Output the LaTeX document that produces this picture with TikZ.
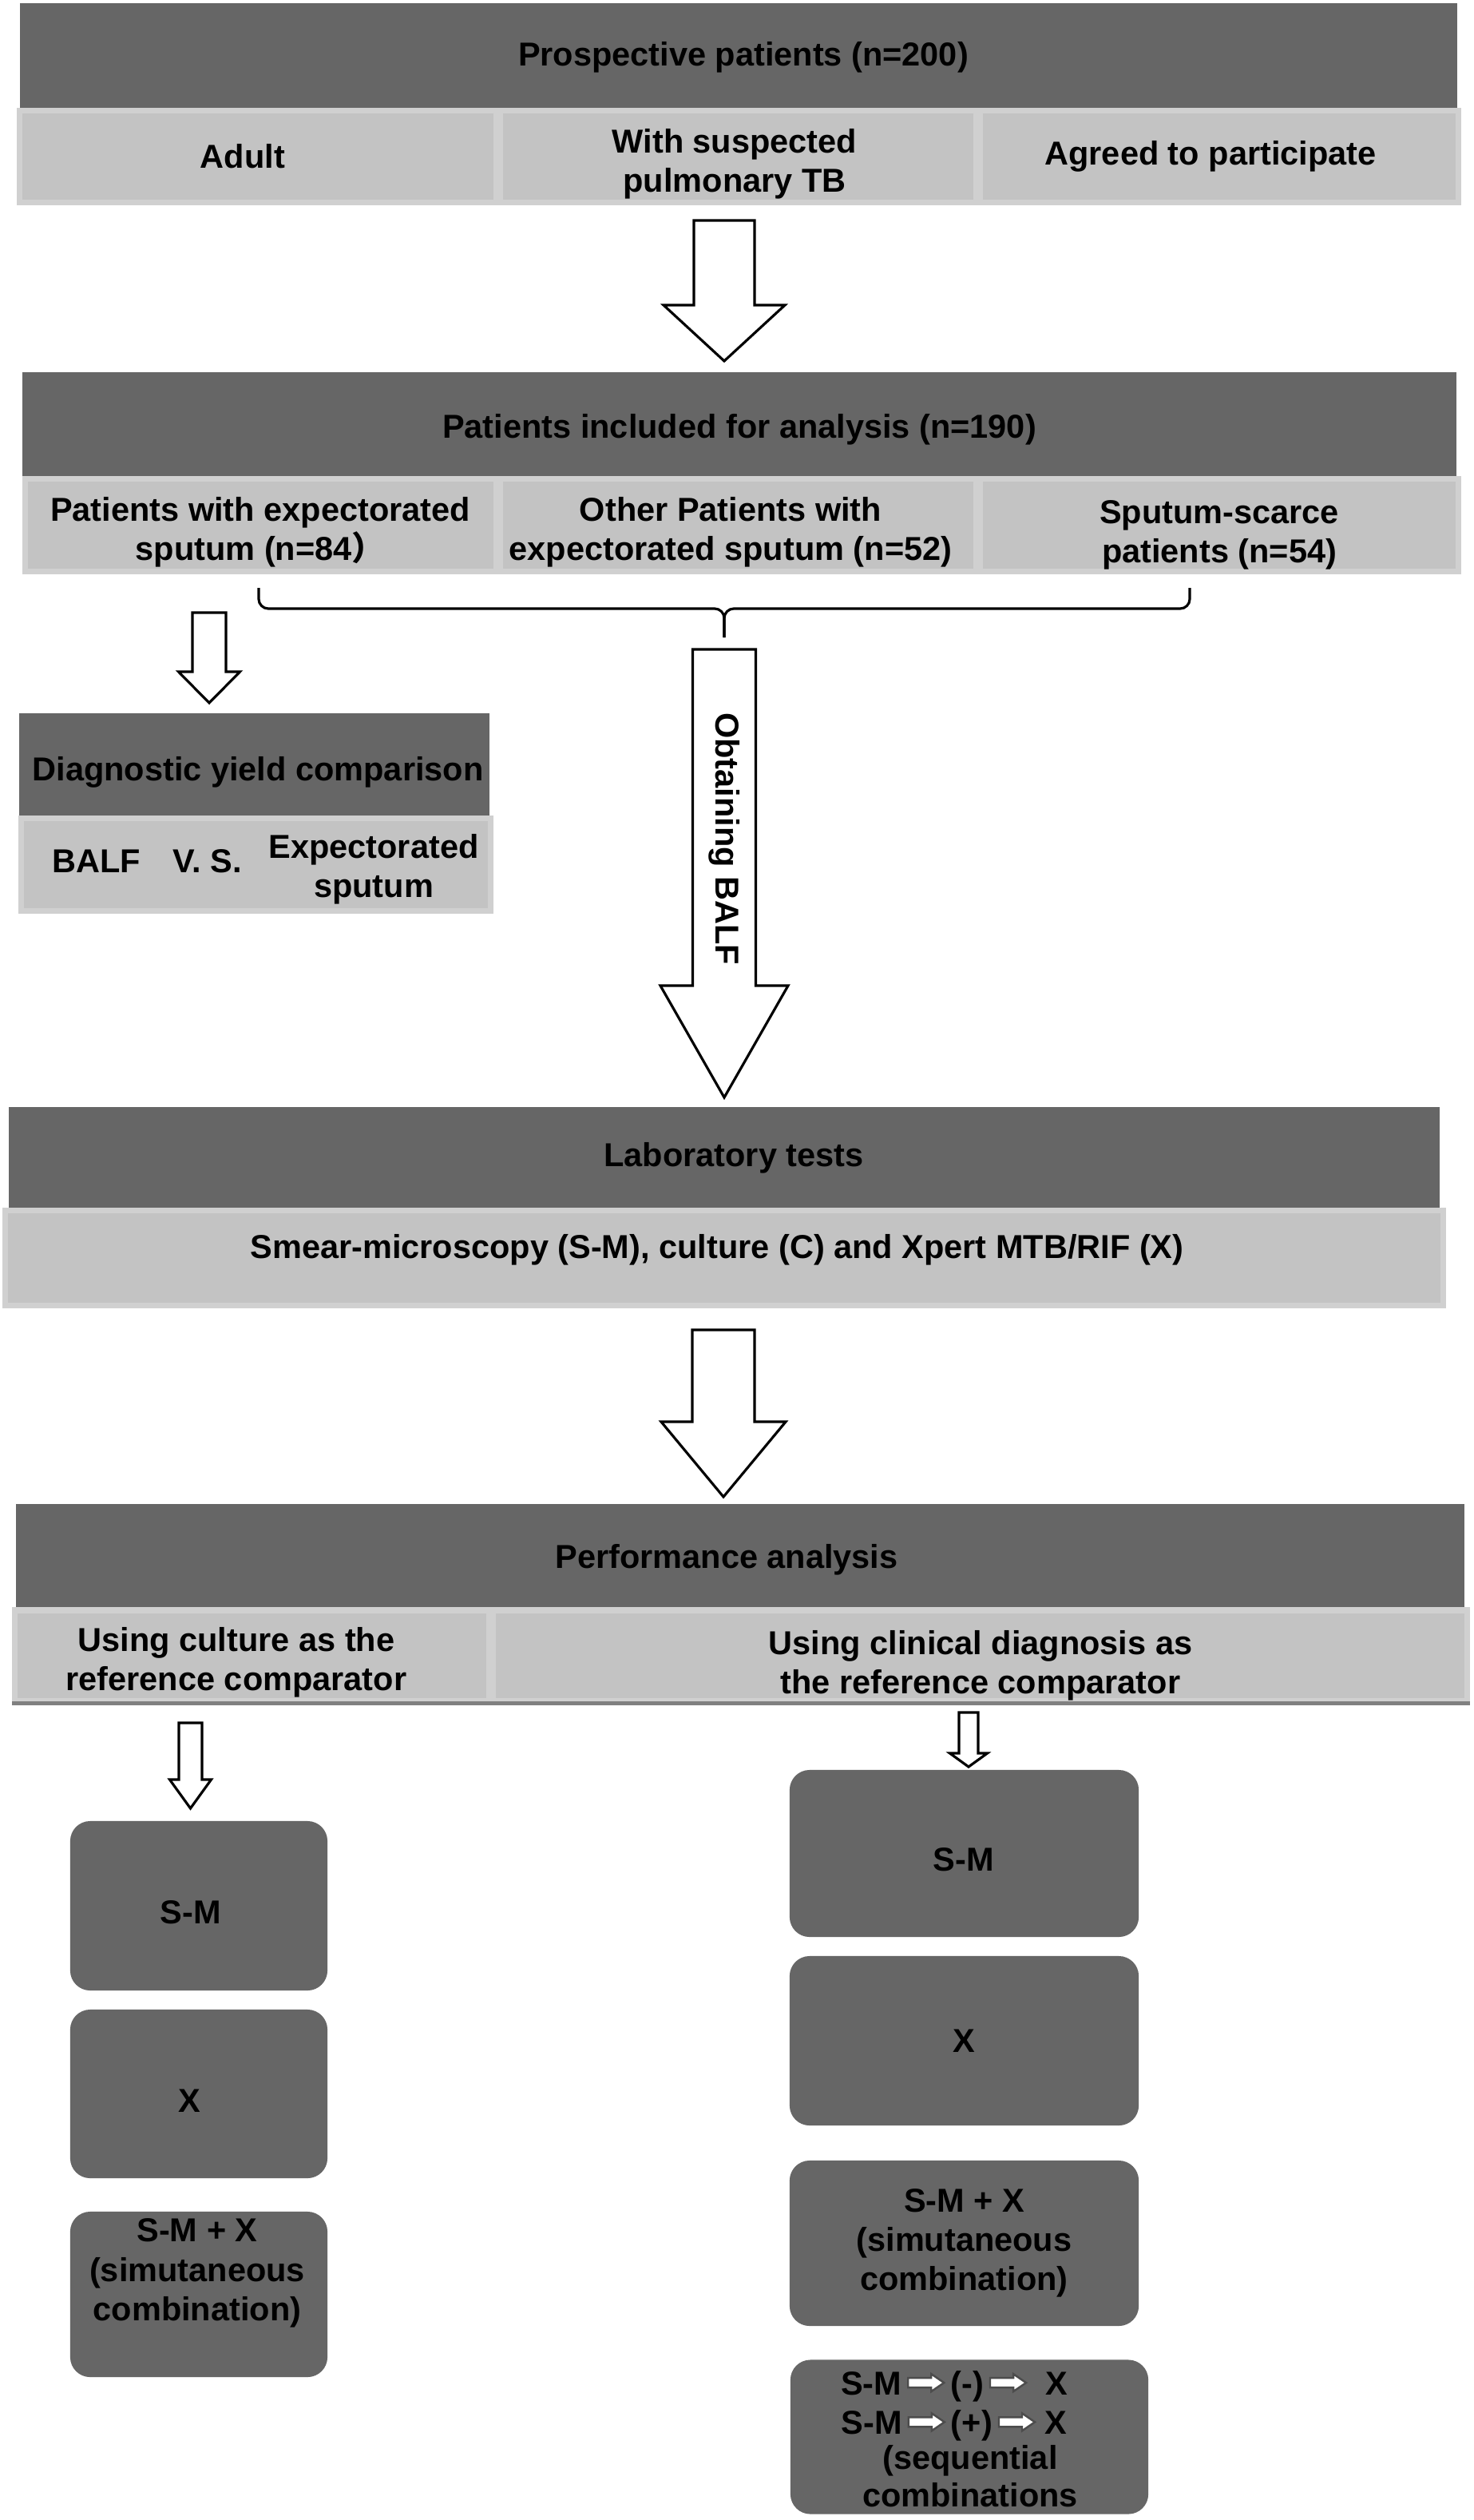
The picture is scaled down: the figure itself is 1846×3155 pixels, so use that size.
\documentclass[tikz,border=0pt]{standalone}
\usepackage{fontspec}
\setmainfont{Liberation Sans}
\newfontfamily\cjkfont{Noto Sans CJK SC}
\usetikzlibrary{calc}
\definecolor{bardark}{HTML}{666666}
\definecolor{celllight}{HTML}{C3C3C3}
\definecolor{cellrim}{HTML}{D0D0D0}
\tikzset{
  every node/.style={font=\bfseries\fontsize{11.8}{14}\selectfont, align=center, inner sep=0pt},
  darkbar/.style={fill=bardark},
  lightcell/.style={fill=celllight, draw=cellrim, line width=2pt},
  testbox/.style={fill=bardark, rounded corners=0.25cm},
  hollow/.style={draw=black, fill=white, line width=0.9pt, line join=miter}
}
% block arrow: from, tip, shaft half width, head half width, head length
\newcommand\hollowarrow[5]{\draw[hollow] let \p1=(#1), \p2=(#2) in
  (\x1-#3,\y1) -- (\x1+#3,\y1) -- (\x1+#3,\y2+#5) -- (\x1+#4,\y2+#5) -- (\x2,\y2)
  -- (\x1-#4,\y2+#5) -- (\x1-#3,\y2+#5) -- cycle;}
% small white arrow inside text
\newcommand\wharrow{\tikz[x=1cm,y=1cm,baseline=-0.15cm]\draw[fill=white, draw=black!70, line width=0.7pt]
  (0,-0.06) -- (0.29,-0.06) -- (0.29,-0.11) -- (0.45,0) -- (0.29,0.11) -- (0.29,0.06) -- (0,0.06) -- cycle;}

\begin{document}
\begin{tikzpicture}[x=0.01cm, y=-0.01cm]
		%%%%% START %%%%%
		\fill[white] (0,0) rectangle (1846,3155);
		\useasboundingbox (0,0) rectangle (1846,3155);
		
		\node[darkbar, minimum width=17.98cm, minimum height=1.32cm] (pros) at (925,70) {};
		\node (prostxt) at (931,72) {Prospective patients (n=200)};
		\node[lightcell, minimum width=5.96cm, minimum height=1.14cm] (adult) at (323,196) {};
		\node[lightcell, minimum width=5.95cm, minimum height=1.14cm] (susp) at (924.5,196) {};
		\node[lightcell, minimum width=5.98cm, minimum height=1.14cm] (agree) at (1527,196) {};
		\node (adulttxt) at (304,196) {Adult};
		\node (susptxt) at (920,205) {With suspected\\pulmonary TB};
		\node (agreetxt) at (1516,196) {Agreed to participate};
		
		\coordinate (a1s) at (907,276);
		\coordinate (a1e) at (907,452);
		\hollowarrow{a1s}{a1e}{0.38cm}{0.76cm}{0.70cm}
		
		\node[darkbar, minimum width=17.94cm, minimum height=1.31cm] (incl) at (926,531.5) {};
		\node (incltxt) at (926,538) {Patients included for analysis (n=190)};
		\node[lightcell, minimum width=5.89cm, minimum height=1.15cm] (expec) at (326.5,657.5) {};
		\node[lightcell, minimum width=5.95cm, minimum height=1.15cm] (other) at (924.5,657.5) {};
		\node[lightcell, minimum width=5.98cm, minimum height=1.15cm] (scarce) at (1527,657.5) {};
		\node (expectxt) at (326,666) {Patients with expectorated\\sputum (n=84{\cjkfont ）}};
		\node (othertxt) at (915,666) {Other Patients with\\expectorated sputum (n=52)};
		\node (scarcetxt) at (1527,670) {Sputum-scarce\\patients (n=54)};
		
		% brace under the three groups
		\coordinate (brl) at (324,736);
		\coordinate (brr) at (1490,736);
		\coordinate (brt) at (907,798);
		\draw[line width=0.9pt, rounded corners=0.12cm] (brl) -- (brl |- 0,762) -- (brt |- 0,762) -- (brt);
		\draw[line width=0.9pt, rounded corners=0.12cm] (brr) -- (brr |- 0,762) -- (brt |- 0,762) -- (brt);
		
		\coordinate (a2s) at (262,767);
		\coordinate (a2e) at (262,880);
		\hollowarrow{a2s}{a2e}{0.21cm}{0.385cm}{0.39cm}
		
		\node[darkbar, minimum width=5.89cm, minimum height=1.29cm] (yield) at (318.5,957.5) {};
		\node (yieldtxt) at (323,967) {Diagnostic yield comparison};
		\node[lightcell, minimum width=5.87cm, minimum height=1.15cm] (versus) at (320.5,1082.5) {};
		\node (balf) at (121,1078) {BALF};
		\node (vs) at (260,1078) {V. S.};
		\node (sput) at (468,1088) {Expectorated\\sputum};
		
		\coordinate (a3s) at (907,813);
		\coordinate (a3e) at (907,1374);
		\hollowarrow{a3s}{a3e}{0.395cm}{0.80cm}{1.40cm}
		\node[rotate=-90] (obtain) at (907,1050) {Obtaining BALF};
		
		\node[darkbar, minimum width=17.90cm, minimum height=1.27cm] (lab) at (907,1449.5) {};
		\node (labtxt) at (919,1449.5) {Laboratory tests};
		\node[lightcell, minimum width=18.00cm, minimum height=1.18cm] (tests) at (907,1575) {};
		\node (testtxt) at (898,1565) {Smear-microscopy (S-M), culture (C) and Xpert MTB/RIF (X)};
		
		\coordinate (a4s) at (906,1665);
		\coordinate (a4e) at (906,1874);
		\hollowarrow{a4s}{a4e}{0.39cm}{0.78cm}{0.94cm}
		
		\node[darkbar, minimum width=18.12cm, minimum height=1.30cm] (perf) at (927,1948) {};
		\node (perftxt) at (910,1953) {Performance analysis};
		\node[lightcell, minimum width=5.93cm, minimum height=1.13cm] (cult) at (315.5,2072.5) {};
		\node[lightcell, minimum width=12.19cm, minimum height=1.13cm] (clin) at (1227.5,2072.5) {};
		\node (culttxt) at (296,2081) {Using culture as the\\reference comparator};
		\node (clintxt) at (1228,2085) {Using clinical diagnosis as\\the reference comparator};
		\draw[line width=1.3pt, color=black!50] (cult.south west) -- (clin.south east);
		
		\coordinate (a5s) at (238.5,2157);
		\coordinate (a5e) at (238.5,2264);
		\hollowarrow{a5s}{a5e}{0.145cm}{0.26cm}{0.36cm}
		\coordinate (a6s) at (1213,2144);
		\coordinate (a6e) at (1213,2212);
		\hollowarrow{a6s}{a6e}{0.12cm}{0.235cm}{0.17cm}
		
		% culture as reference
		\node[testbox, minimum width=3.22cm, minimum height=2.12cm] (lsm) at (249,2386) {};
		\node (lsmtxt) at (239,2394) {S-M};
		\node[testbox, minimum width=3.22cm, minimum height=2.11cm] (lx) at (249,2621.5) {};
		\node (lxtxt) at (237,2630) {X};
		\node[testbox, minimum width=3.22cm, minimum height=2.07cm] (lsx) at (249,2872.5) {};
		\node (lsxtxt) at (247,2846) {S-M + X\\(simutaneous\\combination)};
		
		% clinical diagnosis as reference
		\node[testbox, minimum width=4.37cm, minimum height=2.09cm] (rsm) at (1207.5,2320.5) {};
		\node (rsmtxt) at (1207,2328) {S-M};
		\node[testbox, minimum width=4.37cm, minimum height=2.12cm] (rx) at (1207.5,2555) {X};
		\node[testbox, minimum width=4.37cm, minimum height=2.07cm] (rsx) at (1207.5,2808.5) {S-M + X\\(simutaneous\\combination)};
		\node[testbox, minimum width=4.48cm, minimum height=1.93cm] (rseq) at (1214,3051) {};
		\node (seqtop) at (1195,3012) {S-M\,\wharrow\,(-)\,\wharrow\ \ X\\S-M\,\wharrow\,(+)\,\wharrow\ X};
		\node[font=\bfseries\fontsize{11.8}{13.4}\selectfont] (seqbot) at (1215,3100) {(sequential\\combinations};
		
		%%%%% END %%%%%
\end{tikzpicture}
\end{document}
